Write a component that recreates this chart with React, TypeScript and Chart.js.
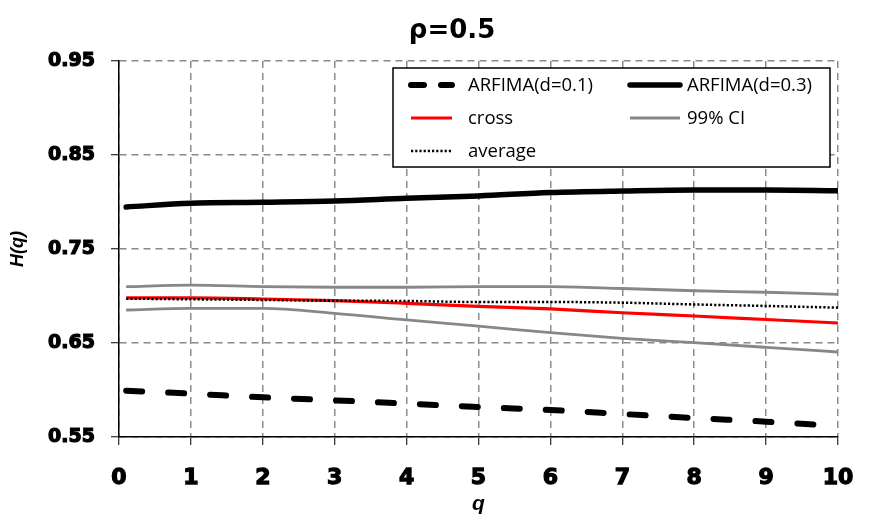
import { useEffect, useRef } from "react";
import { Chart, registerables } from "chart.js";

Chart.register(...registerables);

const qValues = [0.1, 1, 2, 3, 4, 5, 6, 7, 8, 9, 10];
const arfima01 = [0.5993, 0.5961, 0.5922, 0.589, 0.5855, 0.5819, 0.5787, 0.5745, 0.5702, 0.5663, 0.5617];
const arfima03 = [0.7947, 0.7987, 0.7997, 0.801, 0.804, 0.8065, 0.81, 0.8117, 0.8128, 0.8128, 0.812];
const crossH = [0.6979, 0.698, 0.6968, 0.695, 0.6922, 0.689, 0.6862, 0.6822, 0.6787, 0.675, 0.6713];
const ciUpper = [0.7099, 0.7115, 0.71, 0.7093, 0.7093, 0.7099, 0.71, 0.708, 0.7056, 0.704, 0.7018];
const ciLower = [0.6851, 0.6869, 0.6869, 0.6816, 0.6745, 0.668, 0.661, 0.655, 0.6503, 0.6454, 0.6404];
const averageH = [0.6972, 0.6965, 0.6958, 0.695, 0.6947, 0.6936, 0.6936, 0.6929, 0.691, 0.6894, 0.6876];
const yTicks = [0.55, 0.65, 0.75, 0.85, 0.95];
const titleText = "ρ=0.5";

const pts = (ys: number[]) => ys.map((y, i) => ({ x: qValues[i], y }));

const titlePlugin = {
  id: "customTitle",
  afterDraw(chart: any) {
    const ctx = chart.ctx;
    ctx.save();
    ctx.font = "bold 26px 'DejaVu Sans'";
    ctx.fillStyle = "#000";
    ctx.textAlign = "center";
    ctx.textBaseline = "middle";
    ctx.fillText(titleText, 452, 31);
    ctx.restore();
  },
};

const legendPlugin = {
  id: "boxLegend",
  afterDraw(chart: any) {
    const ctx = chart.ctx;
    const items = chart.data.datasets.filter((d: any) => !d.legendSkip);
    const ordered = [...items].sort((a: any, b: any) => a.legendPos - b.legendPos);
    const bx = 393, by = 68, bw = 437, bh = 99;
    ctx.save();
    ctx.fillStyle = "#fff";
    ctx.fillRect(bx, by, bw, bh);
    ctx.strokeStyle = "#000";
    ctx.lineWidth = 1.5;
    ctx.strokeRect(bx, by, bw, bh);
    const cols = [
      { x0: 411, x1: 452, tx: 468 },
      { x0: 630, x1: 680, tx: 687 },
    ];
    const rows = [85, 118, 151];
    ordered.forEach((d: any, i: number) => {
      const c = cols[i % 2];
      const ry = rows[Math.floor(i / 2)];
      ctx.save();
      ctx.strokeStyle = d.borderColor;
      ctx.lineWidth = d.borderWidth;
      ctx.lineCap = d.borderCapStyle || "butt";
      ctx.setLineDash(d.legendDash || d.borderDash || []);
      ctx.beginPath();
      ctx.moveTo(c.x0, ry);
      ctx.lineTo(c.x1, ry);
      ctx.stroke();
      ctx.restore();
      ctx.fillStyle = "#000";
      ctx.font = "18.5px 'Open Sans'";
      ctx.textAlign = "left";
      ctx.textBaseline = "middle";
      ctx.fillText(d.label, c.tx, ry + 1);
    });
    ctx.restore();
  },
};

export default function App() {
  const ref = useRef<HTMLCanvasElement>(null);
  useEffect(() => {
    const canvas = ref.current;
    if (!canvas) return;
    const gridCommon = {
      color: "#8a8a8a",
      lineWidth: 1.5,
      tickLength: 8,
      tickColor: "#000",
      tickWidth: 1,
      tickBorderDash: [],
    };
    const chart = new Chart(canvas, {
      type: "line",
      data: {
        datasets: [
          {
            label: "average",
            data: pts(averageH),
            borderColor: "#000",
            borderWidth: 2.5,
            borderDash: [2.2, 2],
            legendPos: 4,
            order: 0,
          } as any,
          {
            label: "cross",
            data: pts(crossH),
            borderColor: "#ff0000",
            borderWidth: 3.2,
            legendPos: 2,
            order: 1,
          },
          {
            label: "99% CI",
            data: pts(ciUpper),
            borderColor: "#878787",
            borderWidth: 2.8,
            legendPos: 3,
            order: 2,
          },
          {
            label: "99% CI lower",
            data: pts(ciLower),
            borderColor: "#878787",
            borderWidth: 2.8,
            legendSkip: true,
            order: 3,
          },
          {
            label: "ARFIMA(d=0.3)",
            data: pts(arfima03),
            borderColor: "#000",
            borderWidth: 5.5,
            borderCapStyle: "round",
            legendPos: 1,
            order: 4,
          },
          {
            label: "ARFIMA(d=0.1)",
            data: pts(arfima01),
            borderColor: "#000",
            borderWidth: 6,
            borderDash: [16, 26],
            borderCapStyle: "round",
            legendDash: [13, 17],
            legendPos: 0,
            order: 5,
          },
        ] as any,
      },
      options: {
        responsive: false,
        animation: false,
        devicePixelRatio: 1,
        layout: { padding: { left: 0, right: 39, top: 61, bottom: 0 } },
        elements: {
          point: { radius: 0, hoverRadius: 0 },
          line: { cubicInterpolationMode: "monotone", fill: false },
        },
        plugins: {
          legend: { display: false },
          title: { display: false },
          tooltip: { enabled: false },
        },
        scales: {
          x: {
            type: "linear",
            min: 0,
            max: 10,
            ticks: {
              stepSize: 1,
              color: "#000",
              padding: 20,
              textStrokeColor: "#000",
              textStrokeWidth: 1.3,
              font: { family: "'DejaVu Sans'", size: 22, weight: "bold" },
            },
            grid: gridCommon,
            border: { display: true, color: "#000", width: 1.5, dash: [7, 5] },
            title: {
              display: true,
              text: "q",
              color: "#000",
              padding: { top: 0, bottom: 6 },
              font: { family: "'Liberation Sans'", size: 21, weight: "bold", style: "italic" },
            },
            afterFit(scale: any) {
              scale.height = 86;
            },
          },
          y: {
            type: "linear",
            min: 0.55,
            max: 0.95,
            afterBuildTicks(scale: any) {
              scale.ticks = yTicks.map((v) => ({ value: v }));
            },
            ticks: {
              color: "#000",
              padding: 16,
              textStrokeColor: "#000",
              textStrokeWidth: 1.2,
              font: { family: "'DejaVu Sans'", size: 19, weight: "bold" },
              callback: (v: any) => Number(v).toFixed(2),
            },
            grid: gridCommon,
            border: { display: true, color: "#000", width: 1.5, dash: [7, 5] },
            title: {
              display: true,
              text: "H(q)",
              color: "#000",
              padding: { top: 7, bottom: 0 },
              font: { family: "'Liberation Sans'", size: 18, weight: "bold", style: "italic" },
            },
            afterFit(scale: any) {
              scale.width = 119;
            },
          },
        },
      } as any,
      plugins: [legendPlugin, titlePlugin],
    });
    return () => chart.destroy();
  }, []);
  return (
    <div style={{ position: "absolute", left: 0, top: 0, width: 877, height: 523, background: "#fff" }}>
      <canvas ref={ref} width={877} height={523} style={{ display: "block", width: 877, height: 523 }} />
    </div>
  );
}
